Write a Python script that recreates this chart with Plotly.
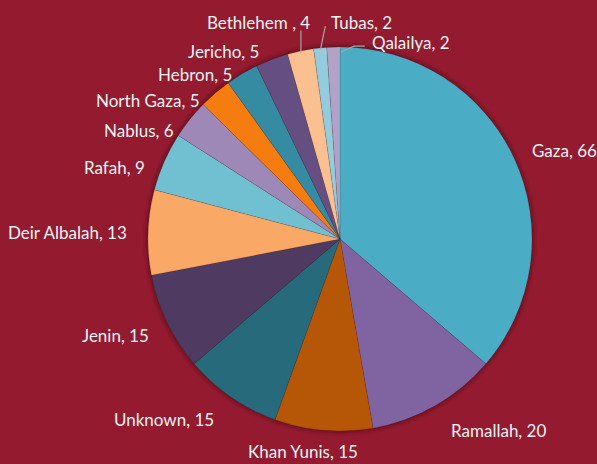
import math
import plotly.graph_objects as go

labels = ["Gaza", "Ramallah", "Khan Yunis", "Unknown", "Jenin", "Deir Albalah",
          "Rafah", "Nablus", "North Gaza", "Hebron", "Jericho", "Bethlehem ", "Tubas", "Qalailya"]
values = [66, 20, 15, 15, 15, 13, 9, 6, 5, 5, 5, 4, 2, 2]
colors = ["#4BACC6", "#8064A2", "#B65708", "#276A7C", "#4F3B62", "#F9A866",
          "#71C0D2", "#9E88B8", "#F57C0F", "#358BA2", "#654F82", "#FAC090", "#93CDDD", "#B3A2C7"]

W, H = 597, 464
BG = "#931A2F"
CX, CY, R = 340, 239, 192          # pie centre / radius in pixels
LABEL_GAP = 18                     # distance of label anchor beyond the rim
# style tweaks for label placement (pixel nudges, optional anchor override)
nudge = {
    "Gaza": (-1, -1, None), "Ramallah": (5, 9, None), "Khan Yunis": (38, 3, None),
    "Unknown": (-5, 8, None), "Jenin": (0, 5, None), "Deir Albalah": (-1, 1, None),
    "Rafah": (-1, 13, None), "Nablus": (0, 22, None), "North Gaza": (-1, 21, None),
    "Hebron": (1, 16, None), "Jericho": (-5, 9, None), "Bethlehem ": (15, -11, None),
    "Tubas": (11, -8, "left"), "Qalailya": (37, 13, "left"),
}
leader = {"Bethlehem ", "Tubas", "Qalailya"}


def dom(r):
    return dict(x=[(CX - r) / W, (CX + r) / W], y=[1 - (CY + r) / H, 1 - (CY - r) / H])


fig = go.Figure()
# soft shadow around the pie rim
for extra, alpha in [(5, 0.05), (3, 0.07), (1.5, 0.09)]:
    fig.add_trace(go.Pie(values=[1], labels=[""], textinfo="none", hoverinfo="skip",
                         marker=dict(colors=[f"rgba(0,0,0,{alpha})"], line=dict(width=0)),
                         domain=dom(R + extra), showlegend=False, sort=False))
fig.add_trace(go.Pie(
    labels=labels, values=values,
    textinfo="none",
    sort=False, direction="clockwise", rotation=0,
    marker=dict(colors=colors, line=dict(color="rgba(0,0,0,0.18)", width=0.6)),
    hoverinfo="label+value",
    domain=dom(R),
    showlegend=False,
))

total = sum(values)
cum = 0
annotations, shapes = [], []
for lab, v in zip(labels, values):
    mid = (cum + v / 2) / total * 2 * math.pi
    cum += v
    ux, uy = math.sin(mid), -math.cos(mid)
    px, py = CX + (R + LABEL_GAP) * ux, CY + (R + LABEL_GAP) * uy
    dx, dy, anch = nudge.get(lab, (0, 0, None))
    ax, ay = px + dx, py + dy
    xanchor = anch or ("left" if ux >= 0 else "right")
    annotations.append(dict(
        x=ax / W, y=1 - ay / H, xref="paper", yref="paper",
        text=f"{lab}, {v}", showarrow=False, xanchor=xanchor, yanchor="middle",
        font=dict(family="Lato", size=17, color="#F2F2F2"),
    ))
    if lab in leader:
        ex, ey = CX + (R - 2) * ux, CY + (R - 2) * uy
        if lab == "Qalailya":
            ex, ey = CX + 1, CY - R + 5
            pts = [(ex, ey), (ex + 13, ay + 4), (ax - 5, ay + 4)]
        elif lab == "Tubas":
            pts = [(ex, ey), (ax - 4, ay + 4)]
        else:
            pts = [(ex, ey), (ex, ay + 8)]
        path = "M " + " L ".join(f"{x / W},{1 - y / H}" for x, y in pts)
        shapes.append(dict(type="path", path=path, xref="paper", yref="paper",
                           line=dict(color="#A6A6A6", width=1.2)))

fig.update_layout(
    width=W, height=H,
    margin=dict(l=0, r=0, t=0, b=0),
    paper_bgcolor=BG, plot_bgcolor=BG,
    annotations=annotations, shapes=shapes,
)
fig.write_html(
    "out.html",
    config={"displayModeBar": False},
    post_script=(
        "document.body.style.margin='0';document.body.style.overflow='hidden';"
        f"document.body.style.background='{BG}';"
    ),
)
